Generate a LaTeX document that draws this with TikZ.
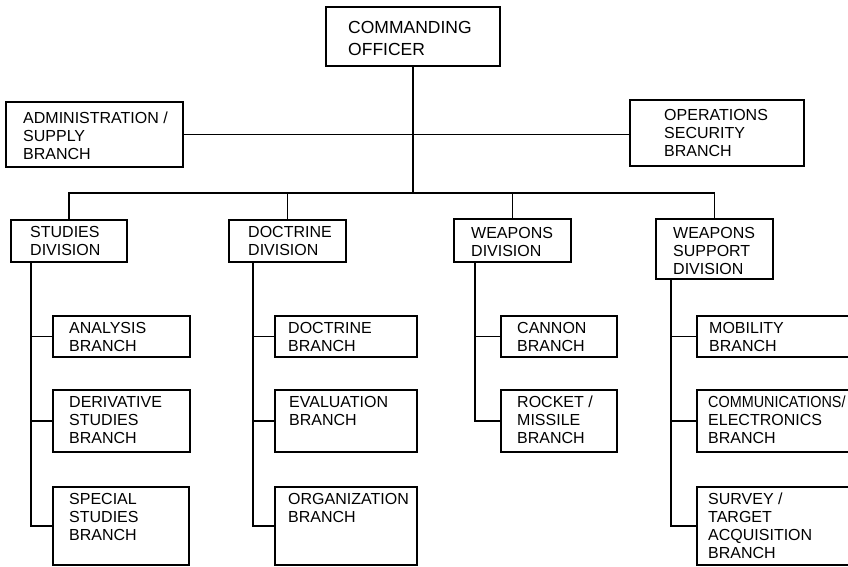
\documentclass[tikz,border=0pt]{standalone}
\usepackage{fontspec}
\setmainfont{Liberation Sans}
\usetikzlibrary{calc}
\begin{document}
\begin{tikzpicture}[x=1pt,y=-1pt,
  box/.style={draw=black, line width=1.8pt, rectangle, inner sep=0pt, anchor=north west},
  lbl/.style={anchor=north west, inner sep=0pt, align=left, font=\fontsize{16}{18}\selectfont},
  bigl/.style={anchor=north west, inner sep=0pt, align=left, font=\fontsize{17.5}{22}\selectfont},
  conn/.style={draw=black, line width=1.8pt}]
\useasboundingbox (0,0) rectangle (848,567);
\clip (0,0) rectangle (848,567);
\fill[white] (0,0) rectangle (848,567);
% boxes
\node[box, minimum width=174pt, minimum height=59pt] (co) at (325,6) {};
\node[box, minimum width=177pt, minimum height=65pt] (adm) at (5,101) {};
\node[box, minimum width=174pt, minimum height=66pt] (ops) at (629,99) {};
\node[box, minimum width=116pt, minimum height=42pt] (sd) at (10,219) {};
\node[box, minimum width=117pt, minimum height=42pt] (dd) at (228,219) {};
\node[box, minimum width=117pt, minimum height=43pt] (wd) at (453,218) {};
\node[box, minimum width=117pt, minimum height=60pt] (wsd) at (655,218) {};
\node[box, minimum width=137pt, minimum height=41pt] (an) at (52,315) {};
\node[box, minimum width=137pt, minimum height=62pt] (dv) at (52,389) {};
\node[box, minimum width=136pt, minimum height=78pt] (ss) at (52,486) {};
\node[box, minimum width=142pt, minimum height=41pt] (db) at (274,315) {};
\node[box, minimum width=142pt, minimum height=62pt] (ev) at (274,389) {};
\node[box, minimum width=142pt, minimum height=78pt] (og) at (274,486) {};
\node[box, minimum width=116pt, minimum height=41pt] (ca) at (500,315) {};
\node[box, minimum width=116pt, minimum height=62pt] (rm) at (500,389) {};
\node[box, minimum width=170pt, minimum height=41pt] (mo) at (696,315) {};
\node[box, minimum width=170pt, minimum height=62pt] (ce) at (696,389) {};
\node[box, minimum width=170pt, minimum height=78pt] (sv) at (696,486) {};
% labels
\node[bigl] (co-t) at (348,21) {COMMANDING\\OFFICER};
\node[lbl] (adm-t) at (23,112) {ADMINISTRATION /\\SUPPLY\\BRANCH};
\node[lbl] (ops-t) at (664,109) {OPERATIONS\\SECURITY\\BRANCH};
\node[lbl] (sd-t) at (30,226) {STUDIES\\DIVISION};
\node[lbl] (dd-t) at (248,226) {DOCTRINE\\DIVISION};
\node[lbl] (wd-t) at (471,227) {WEAPONS\\DIVISION};
\node[lbl] (wsd-t) at (673,227) {WEAPONS\\SUPPORT\\DIVISION};
\node[lbl] (an-t) at (69,322) {ANALYSIS\\BRANCH};
\node[lbl] (db-t) at (288,322) {DOCTRINE\\BRANCH};
\node[lbl] (ca-t) at (517,322) {CANNON\\BRANCH};
\node[lbl] (mo-t) at (709,322) {MOBILITY\\BRANCH};
\node[lbl] (dv-t) at (69,396) {DERIVATIVE\\STUDIES\\BRANCH};
\node[lbl] (ev-t) at (289,396) {EVALUATION\\BRANCH};
\node[lbl] (rm-t) at (517,396) {ROCKET /\\MISSILE\\BRANCH};
\node[lbl] (ce-t) at (708,396) {\scalebox{0.9}[1]{COMMUNICATIONS/}\\ELECTRONICS\\BRANCH};
\node[lbl] (ss-t) at (69,493) {SPECIAL\\STUDIES\\BRANCH};
\node[lbl] (og-t) at (288,493) {ORGANIZATION\\BRANCH};
\node[lbl] (sv-t) at (708,493) {SURVEY /\\TARGET\\ACQUISITION\\BRANCH};
% connectors
\coordinate (bus) at (414,193);
\draw[conn] (co.south) -- (co.south |- bus);
\draw[conn] (adm.east) -- (adm.east -| ops.west);
\draw[conn] (sd.north) -- (sd.north |- bus) -- (wsd.north |- bus) -- (wsd.north);
\draw[conn] (dd.north) -- (dd.north |- bus);
\draw[conn] (wd.north) -- (wd.north |- bus);
% spines
\coordinate (sdsp) at ($(sd.south west)+(21,0)$);
\coordinate (ddsp) at ($(dd.south west)+(25,0)$);
\coordinate (wdsp) at ($(wd.south west)+(22,0)$);
\coordinate (wssp) at ($(wsd.south west)+(16,0)$);
\draw[conn] (sdsp) |- (ss.west);
\draw[conn] (an.west) -- (an.west -| sdsp);
\draw[conn] (dv.west) -- (dv.west -| sdsp);
\draw[conn] (ddsp) |- (og.west);
\draw[conn] (db.west) -- (db.west -| ddsp);
\draw[conn] (ev.west) -- (ev.west -| ddsp);
\draw[conn] (wdsp) |- (rm.west);
\draw[conn] (ca.west) -- (ca.west -| wdsp);
\draw[conn] (wssp) |- (sv.west);
\draw[conn] (mo.west) -- (mo.west -| wssp);
\draw[conn] (ce.west) -- (ce.west -| wssp);
\end{tikzpicture}
\end{document}
